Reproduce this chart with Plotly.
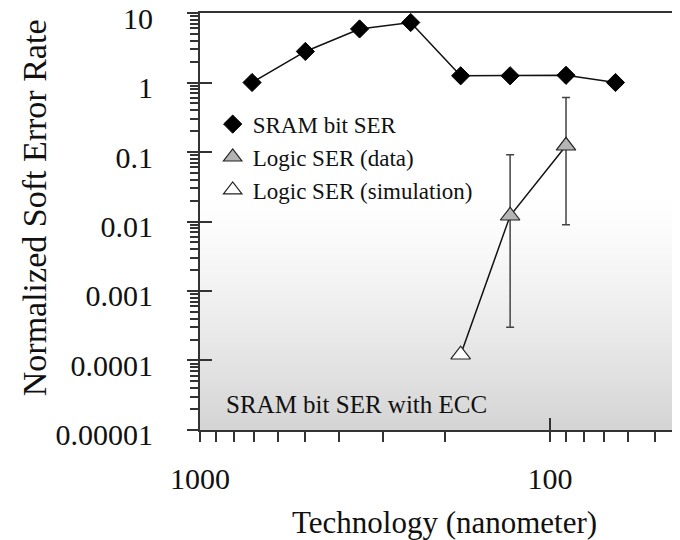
import plotly.graph_objects as go

# ---- data ----
sram_nodes = [710, 500, 350, 250, 180, 130, 90, 65]
sram_ser = [1.0, 2.8, 5.9, 7.3, 1.25, 1.25, 1.27, 1.0]

logic_nodes = [130, 90]
logic_ser = [0.0121, 0.123]
logic_err_hi = [0.091, 0.61]
logic_err_lo = [0.0003, 0.009]

sim_nodes = [180]
sim_ser = [0.000121]

x_tick_vals = [1000, 100]
x_tick_text = ["1000", "100"]
y_tick_vals = [10, 1, 0.1, 0.01, 0.001, 0.0001, 0.00001]
y_tick_text = ["10", "1", "0.1", "0.01", "0.001", "0.0001", "0.00001"]

FONT = "Liberation Serif"
INK = "#111111"
AX = "#333333"

# connecting line for logic (sim -> data)
line_nodes = sim_nodes + logic_nodes
line_ser = sim_ser + logic_ser

x_minor = [m * 100 for m in range(2, 10)] + [m * 10 for m in range(4, 10)]
y_minor = [m * 10.0 ** e for e in range(-5, 1) for m in range(2, 10)]

fig = go.Figure()

# gradient background bands
nb = 100
top_frac = 0.57
for i in range(nb):
    f0 = top_frac * i / nb
    f1 = top_frac * (i + 1) / nb + 0.002
    t = 1 - (i + 0.5) / nb
    t = t ** 1.3
    c = int(round(255 - t * (255 - 212)))
    fig.add_shape(type="rect", xref="x domain", yref="y domain",
                  x0=0, x1=1, y0=f0, y1=f1, line_width=0,
                  fillcolor=f"rgb({c},{c},{c})", layer="below")

fig.add_trace(go.Scatter(x=sram_nodes, y=sram_ser, mode="lines",
                         line=dict(color="#111", width=1.5), showlegend=False,
                         hoverinfo="skip"))
fig.add_trace(go.Scatter(x=line_nodes, y=line_ser, mode="lines",
                         line=dict(color="#111", width=1.5), showlegend=False,
                         hoverinfo="skip"))
fig.add_trace(go.Scatter(x=sram_nodes, y=sram_ser, mode="markers",
                         name="SRAM bit SER",
                         marker=dict(symbol="diamond", size=14, color="#000",
                                     line=dict(color="#000", width=1))))
fig.add_trace(go.Scatter(x=logic_nodes, y=logic_ser, mode="markers",
                         name="Logic SER (data)",
                         error_y=dict(type="data", symmetric=False,
                                      array=[h - v for h, v in zip(logic_err_hi, logic_ser)],
                                      arrayminus=[v - l for l, v in zip(logic_err_lo, logic_ser)],
                                      color="#444", thickness=1.5, width=4),
                         marker=dict(symbol="triangle-up", size=17, color="#b4b4b4",
                                     line=dict(color="#222", width=1.2))))
fig.add_trace(go.Scatter(x=sim_nodes, y=sim_ser, mode="markers",
                         name="Logic SER (simulation)",
                         marker=dict(symbol="triangle-up", size=17, color="#ffffff",
                                     line=dict(color="#222", width=1.2))))
# invisible trace for overlay axes (inside part of major ticks)
fig.add_trace(go.Scatter(x=[1000], y=[10], xaxis="x2", yaxis="y2", mode="markers",
                         marker=dict(opacity=0), showlegend=False, hoverinfo="skip"))

fig.add_annotation(text="SRAM bit SER with ECC", xref="x domain", yref="y domain",
                   x=0.049, y=0.06, xanchor="left", yanchor="middle", showarrow=False,
                   font=dict(family=FONT, size=25, color=INK))
# axis titles (plot area: 488 px wide, 417 px tall)
fig.add_annotation(text="Normalized Soft Error Rate", xref="paper", yref="paper",
                   x=-0.340, y=0.532, xanchor="center", yanchor="middle", textangle=-90,
                   showarrow=False, font=dict(family=FONT, size=34, color=INK))
fig.add_annotation(text="Technology (nanometer)", xref="paper", yref="paper",
                   x=0.502, y=-0.223, xanchor="center", yanchor="middle",
                   showarrow=False, font=dict(family=FONT, size=31, color=INK))

xr = [3, 1.6057]
yr = [-5.0003, 1.0003]
fig.update_layout(
    width=680, height=540,
    margin=dict(l=192, r=0, t=5, b=118, autoexpand=False),
    paper_bgcolor="white", plot_bgcolor="rgba(0,0,0,0)",
    font=dict(family=FONT, color=INK),
    showlegend=True,
    legend=dict(x=0.026, y=0.785, xanchor="left", yanchor="top",
                bgcolor="rgba(0,0,0,0)", font=dict(family=FONT, size=23, color=INK),
                itemwidth=30, tracegroupgap=0),
    xaxis=dict(type="log", range=xr, autorange=False, automargin=False,
               tickmode="array", tickvals=x_tick_vals, ticktext=x_tick_text,
               ticks="outside", ticklen=10, tickwidth=2, tickcolor=AX,
               minor=dict(tickmode="array", tickvals=x_minor, ticks="outside",
                          ticklen=10, tickwidth=1.5, tickcolor=AX, showgrid=False),
               showline=True, linecolor=AX, linewidth=2, mirror=True,
               showgrid=False, zeroline=False, ticklabeloverflow="allow",
               tickfont=dict(family=FONT, size=30, color=INK),
               ticklabelstandoff=11),
    yaxis=dict(type="log", range=yr, autorange=False, automargin=False,
               tickmode="array", tickvals=y_tick_vals, ticktext=y_tick_text,
               ticks="outside", ticklen=11, tickwidth=2, tickcolor=AX,
               minor=dict(tickmode="array", tickvals=y_minor, ticks="outside",
                          ticklen=8, tickwidth=1.5, tickcolor=AX, showgrid=False),
               showline=True, linecolor=AX, linewidth=2, mirror=False,
               showgrid=False, zeroline=False, ticklabeloverflow="allow",
               tickfont=dict(family=FONT, size=30, color=INK),
               ticklabelstandoff=28, ticklabelshift=5),
    xaxis2=dict(type="log", range=xr, autorange=False, overlaying="x", anchor="y",
                side="bottom", tickmode="array", tickvals=x_tick_vals, automargin=False,
                ticks="inside", ticklen=12, tickwidth=2, tickcolor=AX,
                showticklabels=False, showline=False, showgrid=False, zeroline=False),
    yaxis2=dict(type="log", range=yr, autorange=False, overlaying="y", anchor="x",
                side="left", tickmode="array", tickvals=y_tick_vals, automargin=False,
                ticks="inside", ticklen=12, tickwidth=2, tickcolor=AX,
                showticklabels=False, showline=False, showgrid=False, zeroline=False),
)

fig.write_html("out.html")
